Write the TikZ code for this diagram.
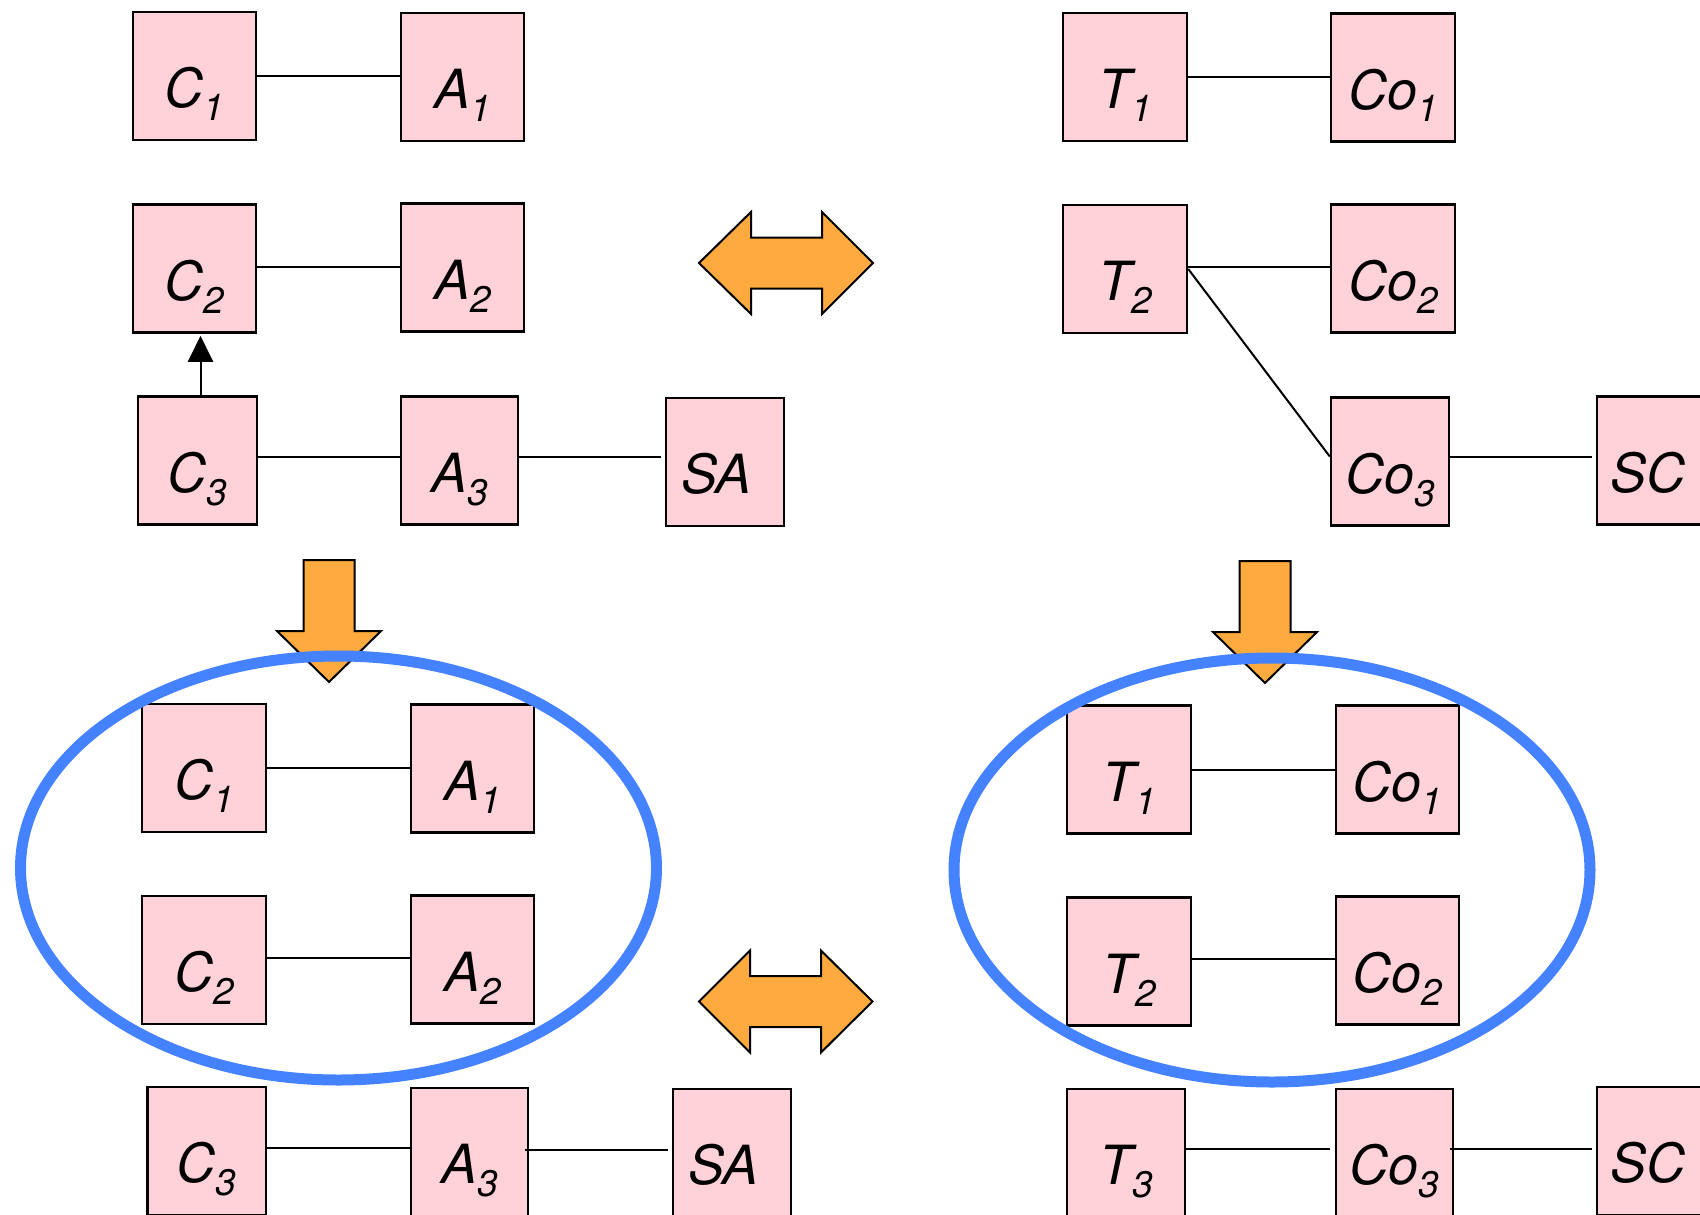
\documentclass[tikz,border=0pt]{standalone}
\usepackage{fontspec}
\setmainfont{TeX Gyre Heros}
\usetikzlibrary{arrows.meta}
\definecolor{boxpink}{HTML}{FFD1D9}
\definecolor{arroworange}{HTML}{FFAA3F}
\definecolor{ringblue}{HTML}{4482FF}
\newcommand\lab{\fontsize{54}{60}\selectfont\itshape}
\newcommand\sbs[1]{\raisebox{-13pt}{\fontsize{37}{40}\selectfont #1}}
\newcommand\lft[1]{#1\hspace*{17pt}}
\begin{document}
\begin{tikzpicture}[x=1pt,y=-1pt,
  box/.style={draw=black, line width=2.5pt, fill=boxpink, inner sep=0pt,
    minimum width=123pt, minimum height=128pt, text height=63pt, text depth=0pt, font=\lab},
  link/.style={draw=black, line width=2pt},
  fat/.style={fill=arroworange, draw=black, line width=2pt, line join=miter},
  ring/.style={draw=ringblue, line width=11pt}]
\useasboundingbox (0,0) rectangle (1700,1215);
\clip (0,0) rectangle (1700,1215);

% ---------- top left ----------
\node[box] (C1) at (194.5,76) {C\sbs{1}};
\node[box] (A1) at (462.5,77) {A\sbs{1}};
\node[box] (C2) at (194.5,268.5) {C\sbs{2}};
\node[box] (A2) at (462.5,267.5) {A\sbs{2}};
\node[box, minimum width=119pt] (C3) at (197.5,460.5) {C\sbs{3}};
\node[box, minimum width=117pt] (A3) at (459.5,460.5) {A\sbs{3}};
\node[box, minimum width=118pt] (SA) at (725,462) {\lft{SA}};
\draw[link] (C1.east) -- (C1.east -| A1.west);
\draw[link] ([yshift=2pt]C2.east) -- ([yshift=2pt]C2.east -| A2.west);
\draw[link] ([yshift=3.5pt]C3.east) -- ([yshift=3.5pt]C3.east -| A3.west);
\draw[link] ([yshift=3.5pt]A3.east) -- ([yshift=3.5pt,xshift=-4pt]A3.east -| SA.west);
\draw[line width=2pt, -{Triangle[length=26pt,width=25pt]}] ([xshift=3pt]C3.north) -- ([xshift=3pt,yshift=-2pt]C3.north |- C2.south);

% ---------- top right ----------
\node[box, minimum width=124pt] (T1) at (1125,77) {T\sbs{1}};
\node[box, minimum width=124pt] (Co1) at (1393,77.5) {Co\sbs{1}};
\node[box, minimum width=124pt] (T2) at (1125,269) {T\sbs{2}};
\node[box, minimum width=124pt] (Co2) at (1393,268.5) {Co\sbs{2}};
\node[box, minimum width=118pt] (Co3) at (1390,461.5) {Co\sbs{3}};
\node[box, minimum width=119pt] (SC) at (1656.5,460.5) {\lft{SC}};
\draw[link] (T1.east) -- (T1.east -| Co1.west);
\draw[link] ([yshift=2pt]T2.east) -- ([yshift=2pt]T2.east -| Co2.west);
\draw[link] (T2.east) -- ([yshift=5pt]Co3.west);
\draw[link] ([yshift=4.5pt]Co3.east) -- ([yshift=4.5pt,xshift=-4pt]Co3.east -| SC.west);

% ---------- fat arrows ----------
\draw[fat] (699,263) -- (751,212) -- (751,237.5) -- (822,237.5) -- (822,212) -- (873,263)
  -- (822,314) -- (822,288.5) -- (751,288.5) -- (751,314) -- cycle;
\draw[fat] (699,1001.5) -- (750,950.5) -- (750,976) -- (821,976) -- (821,950.5) -- (872.5,1001.5)
  -- (821,1052.5) -- (821,1027) -- (750,1027) -- (750,1052.5) -- cycle;
\draw[fat] (303.5,560) -- (354.5,560) -- (354.5,631) -- (381,631) -- (329,682) -- (277,631) -- (303.5,631) -- cycle;
\draw[fat] (1239.5,561) -- (1290.5,561) -- (1290.5,632) -- (1317,632) -- (1265,683) -- (1213,632) -- (1239.5,632) -- cycle;

% ---------- bottom left ----------
\node[box, minimum width=124pt] (C1b) at (204,768) {C\sbs{1}};
\node[box] (A1b) at (472.5,768.5) {A\sbs{1}};
\node[box, minimum width=124pt] (C2b) at (204,960) {C\sbs{2}};
\node[box] (A2b) at (472.5,959.5) {A\sbs{2}};
\node[box, minimum width=118.5pt] (C3b) at (206.75,1151) {C\sbs{3}};
\node[box, minimum width=117pt] (A3b) at (469.5,1152) {A\sbs{3}};
\node[box, minimum width=118pt] (SAb) at (732,1153) {\lft{SA}};
\draw[link] (C1b.east) -- (C1b.east -| A1b.west);
\draw[link] ([yshift=2pt]C2b.east) -- ([yshift=2pt]C2b.east -| A2b.west);
\draw[link] ([yshift=3pt]C3b.east) -- ([yshift=3pt]C3b.east -| A3b.west);
\draw[link] ([yshift=2pt,xshift=-4pt]A3b.east) -- ([yshift=2pt,xshift=-4pt]A3b.east -| SAb.west);
\draw[ring] (338.5,868) ellipse [x radius=318, y radius=212];

% ---------- bottom right ----------
\node[box, minimum width=124pt] (T1b) at (1129,769.5) {T\sbs{1}};
\node[box] (Co1b) at (1397.5,769.5) {Co\sbs{1}};
\node[box, minimum width=124pt] (T2b) at (1129,961.5) {T\sbs{2}};
\node[box] (Co2b) at (1397.5,960.5) {Co\sbs{2}};
\node[box, minimum width=118pt] (T3b) at (1126,1153) {T\sbs{3}};
\node[box, minimum width=117pt] (Co3b) at (1394.5,1153) {Co\sbs{3}};
\node[box, minimum width=119pt] (SCb) at (1656.5,1151) {\lft{SC}};
\draw[link] (T1b.east) -- (T1b.east -| Co1b.west);
\draw[link] ([yshift=2.5pt]T2b.east) -- ([yshift=2.5pt]T2b.east -| Co2b.west);
\draw[link] ([yshift=4pt]T3b.east) -- ([yshift=4pt,xshift=-5pt]T3b.east -| Co3b.west);
\draw[link] ([yshift=4pt,xshift=-4.5pt]Co3b.east) -- ([yshift=4pt,xshift=-4pt]Co3b.east -| SCb.west);
\draw[ring] (1272,870) ellipse [x radius=318, y radius=212];
\end{tikzpicture}
\end{document}
